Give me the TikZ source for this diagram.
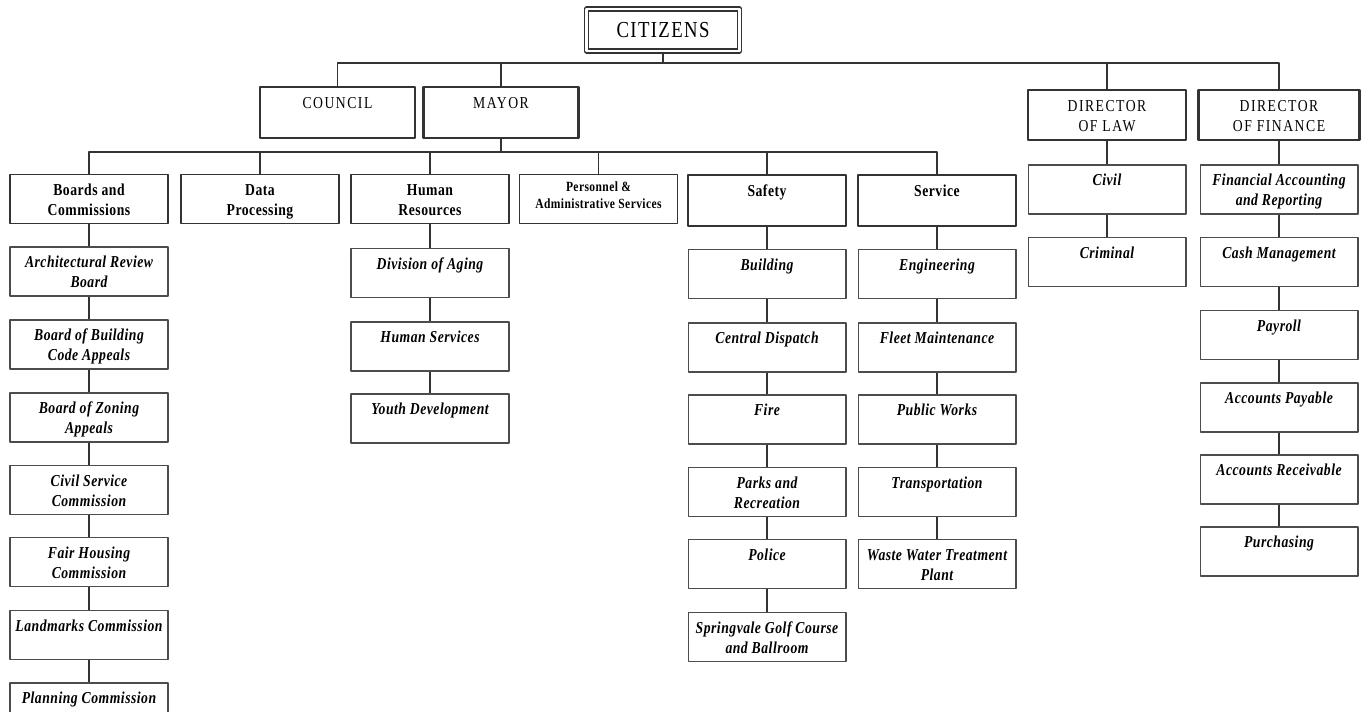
\documentclass[tikz,border=0pt]{standalone}
\usepackage{fontspec}
\setmainfont{Liberation Serif}[FakeStretch=0.82,LetterSpace=3]
\usetikzlibrary{positioning}
\newcommand{\orgsize}{\fontsize{9.5}{11.4}\selectfont}
\newcommand{\lbl}[1]{\parbox[c][0.96cm][t]{3.1cm}{\centering\rule{0pt}{0.4cm}#1}}
\tikzset{
  orgbox/.style={draw=black!80,inner sep=0pt,minimum width=3.16cm,minimum height=0.98cm},
  chiefbox/.style={orgbox,line width=1.4pt,minimum height=1.02cm,font=\orgsize\addfontfeature{LetterSpace=9}},
  deptbox/.style={orgbox,line width=0.9pt,font=\orgsize\bfseries},
  unitbox/.style={orgbox,line width=0.6pt,draw=black!70,font=\orgsize\bfseries\itshape},
  wire/.style={line width=0.9pt,draw=black!80}
}

\begin{document}
\begin{tikzpicture}[x=0.02cm,y=-0.02cm,line join=round]
\useasboundingbox (0,0) rectangle (1368,711);
% --- top level
\node[draw=black!80,thick,double,double distance=1.6pt,inner sep=0pt,minimum width=3.06cm,minimum height=0.84cm,
  font=\fontsize{13}{15}\selectfont\addfontfeature{LetterSpace=6}] (cit) at (663,30) {CITIZENS};
\node[chiefbox,minimum width=3.02cm] (council) at (337.5,112.5) {\lbl{COUNCIL}};
\node[chiefbox,minimum width=3.04cm] (mayor) at (501,112.5) {\lbl{MAYOR}};
\node[chiefbox,minimum height=1cm] (law) at (1107,115) {\lbl{DIRECTOR\\OF LAW}};
\node[chiefbox,minimum width=3.22cm,minimum height=1cm] (fin) at (1279,115) {\lbl{DIRECTOR\\OF FINANCE}};
\coordinate (bus1) at (0,63);
\draw[wire] (council.north) |- (bus1 -| fin.north) -- (fin.north);
\draw[wire] (cit.south) -- (cit.south |- bus1);
\foreach \n in {mayor,law} \draw[wire] (\n.north) -- (\n.north |- bus1);
% --- departments under the mayor
\node[deptbox] (boards) at (89,199) {\lbl{Boards and\\Commissions}};
\node[deptbox] (data) at (260,199) {\lbl{Data\\Processing}};
\node[deptbox] (hr) at (430,199) {\lbl{Human\\Resources}};
\node[deptbox,font=\fontsize{8}{9.6}\selectfont\bfseries] (pers) at (598.5,199)
  {\parbox[c][0.96cm][t]{3.1cm}{\centering\rule{0pt}{0.33cm}Personnel \&\\Administrative Services}};
\node[deptbox,minimum height=1.02cm] (safety) at (767,200.5) {\lbl{Safety}};
\node[deptbox,minimum height=1.02cm] (service) at (937,200.5) {\lbl{Service}};
\coordinate (bus2) at (0,152);
\draw[wire] (boards.north) |- (bus2 -| service.north) -- (service.north);
\draw[wire] (mayor.south) -- (mayor.south |- bus2);
\foreach \n in {data,hr,pers,safety} \draw[wire] (\n.north) -- (\n.north |- bus2);
% --- boards and commissions
\node[unitbox] (arch) at (89,271.5) {\lbl{Architectural Review\\Board}};
\node[unitbox] (bldg) at (89,344.5) {\lbl{Board of Building\\Code Appeals}};
\node[unitbox] (zoning) at (89,417.5) {\lbl{Board of Zoning\\Appeals}};
\node[unitbox] (civsvc) at (89,490) {\lbl{Civil Service\\Commission}};
\node[unitbox] (fairh) at (89,562) {\lbl{Fair Housing\\Commission}};
\node[unitbox] (landm) at (89,635) {\lbl{Landmarks Commission}};
\node[unitbox] (plan) at (89,707.5) {\lbl{Planning Commission}};
% --- human resources
\node[unitbox] (aging) at (430,273) {\lbl{Division of Aging}};
\node[unitbox] (humsvc) at (430,346.5) {\lbl{Human Services}};
\node[unitbox] (youth) at (430,418.5) {\lbl{Youth Development}};
% --- safety
\node[unitbox] (building) at (767,274) {\lbl{Building}};
\node[unitbox] (dispatch) at (767,347.5) {\lbl{Central Dispatch}};
\node[unitbox] (fire) at (767,419.5) {\lbl{Fire}};
\node[unitbox] (parks) at (767,492) {\lbl{Parks and\\Recreation}};
\node[unitbox] (police) at (767,564) {\lbl{Police}};
\node[unitbox] (golf) at (767,637) {\lbl{Springvale Golf Course\\and Ballroom}};
% --- service
\node[unitbox] (eng) at (937,274) {\lbl{Engineering}};
\node[unitbox] (fleet) at (937,347.5) {\lbl{Fleet Maintenance}};
\node[unitbox] (pubw) at (937,419.5) {\lbl{Public Works}};
\node[unitbox] (trans) at (937,492) {\lbl{Transportation}};
\node[unitbox] (waste) at (937,564) {\lbl{Waste Water Treatment\\Plant}};
% --- law
\node[unitbox] (civil) at (1107,189.5) {\lbl{Civil}};
\node[unitbox] (crim) at (1107,262) {\lbl{Criminal}};
% --- finance
\node[unitbox] (finacc) at (1279,189.5) {\lbl{Financial Accounting\\and Reporting}};
\node[unitbox] (cash) at (1279,262) {\lbl{Cash Management}};
\node[unitbox] (payroll) at (1279,335) {\lbl{Payroll}};
\node[unitbox] (apay) at (1279,407.5) {\lbl{Accounts Payable}};
\node[unitbox] (arec) at (1279,479.5) {\lbl{Accounts Receivable}};
\node[unitbox] (purch) at (1279,551.5) {\lbl{Purchasing}};
\foreach \a/\b in {boards/arch,arch/bldg,bldg/zoning,zoning/civsvc,civsvc/fairh,fairh/landm,landm/plan,
  hr/aging,aging/humsvc,humsvc/youth,
  safety/building,building/dispatch,dispatch/fire,fire/parks,parks/police,police/golf,
  service/eng,eng/fleet,fleet/pubw,pubw/trans,trans/waste,
  law/civil,civil/crim,
  fin/finacc,finacc/cash,cash/payroll,payroll/apay,apay/arec,arec/purch}
  \draw[wire] (\a.south) -- (\b.north);
\end{tikzpicture}
\end{document}
